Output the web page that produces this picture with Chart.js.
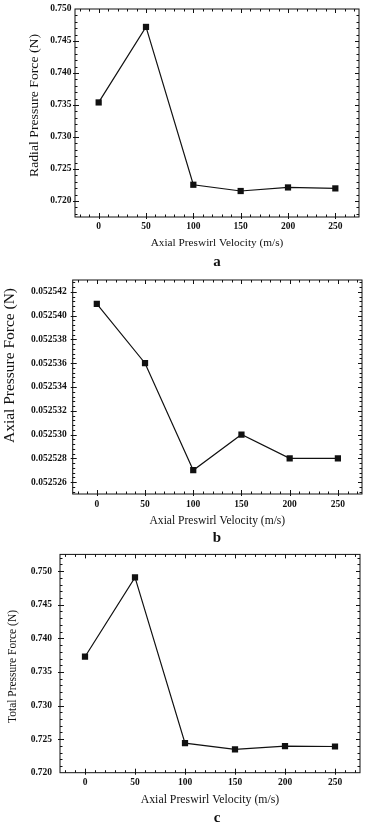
<!DOCTYPE html>
<html>
<head>
<meta charset="utf-8">
<script src="https://cdn.jsdelivr.net/npm/chart.js@4.4.1/dist/chart.umd.min.js"></script>
<style>
    body { margin: 0; background: #fff; width: 368px; height: 825px; overflow: hidden; }
    .panel { position: absolute; left: 0; width: 368px; height: 275px; }
    .panel canvas { position: absolute; left: 0; top: 0; }
    .letter {
        position: absolute;
        font: bold 15px "Liberation Serif", "Times New Roman", serif;
        color: #111;
        transform: translate(-50%, -50%);
    }
</style>
</head>
<body>
<div class="panel" style="top:0px">
    <canvas id="chartA" width="368" height="275"></canvas>
    <div class="letter" style="left:217px; top:261px">a</div>
</div>
<div class="panel" style="top:275px">
    <canvas id="chartB" width="368" height="275"></canvas>
    <div class="letter" style="left:217px; top:262px">b</div>
</div>
<div class="panel" style="top:550px">
    <canvas id="chartC" width="368" height="275"></canvas>
    <div class="letter" style="left:217px; top:267px">c</div>
</div>

<script>
// Data
const velocities = [0, 50, 100, 150, 200, 250];
const xTicks = [0, 50, 100, 150, 200, 250];

const radialForce = [0.73540, 0.74720, 0.72254, 0.72156, 0.72212, 0.72197];
const axialForce = [0.052541, 0.052536, 0.052527, 0.052530, 0.052528, 0.052528];
const totalForce = [0.73727, 0.74907, 0.72440, 0.72346, 0.72395, 0.72390];

const radialTicks = [0.720, 0.725, 0.730, 0.735, 0.740, 0.745, 0.750];
const axialTicks = [0.052526, 0.052528, 0.052530, 0.052532, 0.052534, 0.052536, 0.052538, 0.052540, 0.052542];
const totalTicks = [0.720, 0.725, 0.730, 0.735, 0.740, 0.745, 0.750];

const xTitle = 'Axial Preswirl Velocity (m/s)';

const SERIF = '"Liberation Serif", "Times New Roman", serif';
const INK = '#111';

// Frame with inward ticks on all four sides (Mathematica style) + rotated y title
const framePlugin = {
    id: 'frame',
    beforeDatasetsDraw(chart, args, opts) {
        const { ctx, chartArea: a, scales: { x, y } } = chart;
        ctx.save();
        ctx.strokeStyle = INK;
        ctx.lineWidth = 1;
        ctx.strokeRect(a.left, a.top, a.right - a.left, a.bottom - a.top);

        const majLen = 4, minLen = 2.5, out = 2;
        ctx.beginPath();
        // x ticks
        let n0 = Math.ceil(x.min / opts.xStep - 1e-6), n1 = Math.floor(x.max / opts.xStep + 1e-6);
        for (let n = n0; n <= n1; n++) {
            const px = Math.round(x.getPixelForValue(n * opts.xStep)) + 0.5;
            if (px <= a.left + 1 || px >= a.right - 1) continue;
            const major = n % opts.xEvery === 0;
            const len = major ? majLen : minLen;
            ctx.moveTo(px, a.bottom + (major ? out : 0));
            ctx.lineTo(px, a.bottom - len);
            ctx.moveTo(px, a.top);
            ctx.lineTo(px, a.top + len);
        }
        // y ticks
        n0 = Math.ceil(y.min / opts.yStep - 1e-6);
        n1 = Math.floor(y.max / opts.yStep + 1e-6);
        for (let n = n0; n <= n1; n++) {
            const py = Math.round(y.getPixelForValue(n * opts.yStep)) + 0.5;
            if (py <= a.top + 1 || py >= a.bottom - 1) continue;
            const major = n % opts.yEvery === 0;
            const len = major ? majLen : minLen;
            ctx.moveTo(a.left - (major ? out : 0), py);
            ctx.lineTo(a.left + len, py);
            ctx.moveTo(a.right, py);
            ctx.lineTo(a.right - len, py);
        }
        ctx.stroke();

        // y axis title, squeezed/stretched to the length seen in the figure
        const t = opts.yTitle;
        ctx.font = `${t.size}px ${SERIF}`;
        ctx.fillStyle = INK;
        ctx.textAlign = 'center';
        ctx.textBaseline = 'middle';
        const w = ctx.measureText(t.text).width;
        ctx.translate(t.cx, t.cy);
        ctx.rotate(-Math.PI / 2);
        ctx.scale(t.length / w, 1);
        ctx.fillText(t.text, 0, 0);
        ctx.restore();
    }
};

function makeChart(id, values, yTicks, p) {
    const ctx = document.getElementById(id).getContext('2d');
    return new Chart(ctx, {
        type: 'line',
        data: {
            datasets: [{
                data: velocities.map((v, i) => ({ x: v, y: values[i] })),
                borderColor: INK,
                borderWidth: 1.2,
                backgroundColor: INK,
                pointStyle: 'rect',
                pointRadius: 4.4,
                pointBorderWidth: 0,
                tension: 0
            }]
        },
        options: {
            responsive: false,
            animation: false,
            devicePixelRatio: 1,
            layout: { padding: { left: 0, top: p.top, right: 368 - p.right, bottom: 0 } },
            plugins: {
                legend: { display: false },
                tooltip: { enabled: false },
                frame: {
                    xStep: 10, xEvery: 5, yStep: p.yMinor, yEvery: 5,
                    yTitle: p.yTitle
                }
            },
            scales: {
                x: {
                    type: 'linear',
                    min: -25,
                    max: 275,
                    afterFit: s => { s.height = 275 - p.bottom; s.paddingLeft = 0; s.paddingRight = 0; },
                    afterBuildTicks: s => { s.ticks = xTicks.map(v => ({ value: v })); },
                    grid: { display: false, drawTicks: false },
                    border: { display: false },
                    ticks: {
                        color: INK,
                        padding: p.xTickPad,
                        maxRotation: 0,
                        font: { family: SERIF, size: 9.5, weight: 'bold' },
                        callback: v => String(v)
                    },
                    title: {
                        display: true,
                        text: xTitle,
                        color: INK,
                        font: { family: SERIF, size: p.xTitleSize },
                        padding: { top: 0, bottom: p.xTitlePad }
                    }
                },
                y: {
                    type: 'linear',
                    min: p.yMin,
                    max: p.yMax,
                    afterFit: s => { s.width = p.left; s.paddingTop = 0; s.paddingBottom = 0; },
                    afterBuildTicks: s => { s.ticks = yTicks.map(v => ({ value: v })); },
                    grid: { display: false, drawTicks: false },
                    border: { display: false },
                    ticks: {
                        color: INK,
                        padding: p.yTickPad,
                        font: { family: SERIF, size: 9.5, weight: 'bold' },
                        callback: v => v.toFixed(p.decimals)
                    }
                }
            }
        },
        plugins: [framePlugin]
    });
}

makeChart('chartA', radialForce, radialTicks, {
    left: 75, right: 359, top: 9, bottom: 217,
    yMin: 0.7175, yMax: 0.750, yMinor: 0.001, decimals: 3,
    yTitle: { text: 'Radial Pressure Force (N)', size: 12.5, length: 143, cx: 35, cy: 105.5 },
    yTickPad: 3.5, xTickPad: 4, xTitleSize: 11.3, xTitlePad: 25.2
});

makeChart('chartB', axialForce, axialTicks, {
    left: 72.7, right: 362, top: 5, bottom: 219,
    yMin: 0.052525, yMax: 0.052543, yMinor: 0.0000004, decimals: 6,
    yTitle: { text: 'Axial Pressure Force (N)', size: 15, length: 155, cx: 10.5, cy: 90.5 },
    yTickPad: 6, xTickPad: 5, xTitleSize: 11.55, xTitlePad: 22.4
});

makeChart('chartC', totalForce, totalTicks, {
    left: 60, right: 360, top: 3.3, bottom: 222.7,
    yMin: 0.720, yMax: 0.7525, yMinor: 0.001, decimals: 3,
    yTitle: { text: 'Total Pressure Force (N)', size: 13, length: 113, cx: 13, cy: 116.5 },
    yTickPad: 8, xTickPad: 4, xTitleSize: 11.8, xTitlePad: 17.9
});
</script>
</body>
</html>
